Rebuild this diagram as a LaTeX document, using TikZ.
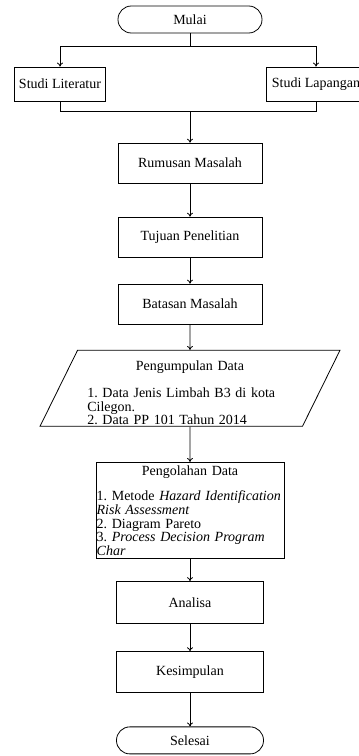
\documentclass[tikz,border=0pt]{standalone}
\usepackage{fontspec}
\setmainfont{Liberation Serif}
\usetikzlibrary{positioning,arrows.meta,shapes.geometric}
\frenchspacing
\hyphenpenalty=10000

\begin{document}
\begin{tikzpicture}[
x=0.75pt, y=-0.75pt,
line width=0.6pt,
font=\fontsize{10.5}{10.2}\selectfont,
term/.style={draw, rounded corners=10pt, minimum width=108pt, minimum height=20.25pt, inner sep=1pt},
proc/.style={draw, minimum width=108pt, minimum height=30pt, inner sep=1pt},
io/.style={draw, trapezium, trapezium left angle=59, trapezium right angle=121, trapezium stretches=true, minimum width=225pt, minimum height=57pt, text width=154pt, inner sep=1pt, align=left},
arrow/.style={-{To[length=3pt,width=4.5pt]}}
]
\useasboundingbox (0,0) rectangle (358,756);
\node[term] (mulai) at (190,19.5) {Mulai};
\node[proc, minimum width=68.25pt, minimum height=25.5pt] (literatur) at (60,84) {Studi Literatur};
\node[proc, minimum width=75pt, minimum height=25.5pt] (lapangan) at (316,84) {Studi Lapangan};
\node[proc, below=82pt of mulai] (rumusan) {Rumusan Masalah};
\node[proc, below=24.9pt of rumusan] (tujuan) {Tujuan Penelitian};
\node[proc, below=19.6pt of tujuan, minimum height=30.2pt] (batasan) {Batasan Masalah};
\node[io, below=18.9pt of batasan, text depth=34pt] (kumpul) {\makebox[\linewidth]{Pengumpulan Data}\\[10.2pt]
1. Data Jenis Limbah B3 di kota\\Cilegon.\\2. Data PP 101 Tahun 2014};
\node[proc, below=26.4pt of kumpul, minimum width=141pt, minimum height=72.2pt, text width=140pt, align=left, inner sep=0.5pt] (olah) {\makebox[\linewidth]{Pengolahan Data}\\[9pt]
1. Metode \textit{Hazard Identification}\\\textit{Risk Assessment}\\2. Diagram Pareto\\3. \textit{Process Decision Program}\\\textit{Char}};
\node[proc, below=16.6pt of olah, minimum width=110.25pt, minimum height=31.6pt] (analisa) {Analisa};
\node[proc, below=20.4pt of analisa, minimum width=110.25pt, minimum height=30.9pt] (simpul) {Kesimpulan};
\node[term, below=24.9pt of simpul, minimum width=110.25pt] (selesai) {Selesai};
% percabangan dan penggabungan
\coordinate[below=9.75pt of mulai] (split);
\coordinate[above=23.25pt of rumusan] (gabung);
\draw (mulai) -- (split);
\draw[arrow] (split) -| (literatur);
\draw[arrow] (split) -| (lapangan);
\draw (literatur) |- (gabung) -| (lapangan);
\draw[arrow] (gabung) -- (rumusan);
% alur utama
\draw[arrow] (rumusan) -- (tujuan);
\draw[arrow] (tujuan) -- (batasan);
\draw[arrow] (batasan) -- (kumpul);
\draw[arrow] (kumpul) -- (olah);
\draw[arrow] (olah) -- (analisa);
\draw[arrow] (analisa) -- (simpul);
\draw[arrow] (simpul) -- (selesai);
\end{tikzpicture}
\end{document}
